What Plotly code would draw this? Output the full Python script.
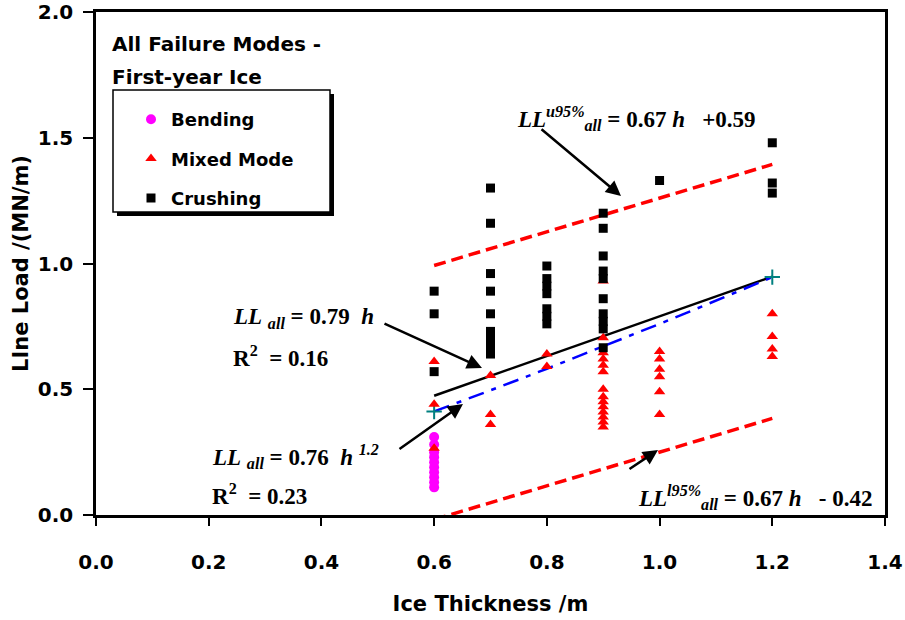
import plotly.graph_objects as go

# ---------------- data ----------------
bending_h = [0.6] * 10
bending_ll = [0.31, 0.28, 0.25, 0.23, 0.21, 0.19, 0.17, 0.15, 0.13, 0.11]

mixed_h = [0.6, 0.6, 0.6,
           0.7, 0.7, 0.7,
           0.8, 0.8,
           0.9, 0.9, 0.9, 0.9, 0.9, 0.9, 0.9, 0.9, 0.9, 0.9, 0.9, 0.9, 0.9, 0.9,
           1.0, 1.0, 1.0, 1.0, 1.0, 1.0,
           1.2, 1.2, 1.2, 1.2]
mixed_ll = [0.61, 0.44, 0.265,
            0.555, 0.40, 0.36,
            0.64, 0.59,
            0.93, 0.705, 0.645, 0.62, 0.595, 0.57, 0.50, 0.47, 0.45, 0.43, 0.41, 0.39, 0.37, 0.35,
            0.65, 0.62, 0.58, 0.55, 0.49, 0.40,
            0.80, 0.71, 0.66, 0.63]

crush_h = [0.6, 0.6, 0.6,
           0.7, 0.7, 0.7, 0.7, 0.7, 0.7, 0.7, 0.7, 0.7,
           0.8, 0.8, 0.8, 0.8, 0.8, 0.8, 0.8,
           0.9, 0.9, 0.9, 0.9, 0.9, 0.9, 0.9, 0.9, 0.9, 0.9,
           1.0,
           1.2, 1.2, 1.2]
crush_ll = [0.89, 0.80, 0.57,
            1.30, 1.16, 0.96, 0.89, 0.80, 0.73, 0.70, 0.67, 0.64,
            0.99, 0.94, 0.91, 0.88, 0.82, 0.79, 0.76,
            1.20, 1.14, 1.03, 0.97, 0.94, 0.86, 0.80, 0.77, 0.74, 0.665,
            1.33,
            1.48, 1.32, 1.28]

# fitted relations shown on the chart
fit_h = [0.6, 0.65, 0.7, 0.75, 0.8, 0.85, 0.9, 0.95, 1.0, 1.05, 1.1, 1.15, 1.2]
lin_coef = 0.79
pow_coef, pow_exp = 0.76, 1.2
band_slope, band_up, band_lo = 0.67, 0.59, -0.42
pow_end_h = [0.6, 1.2]

x_ticks = [0.0, 0.2, 0.4, 0.6, 0.8, 1.0, 1.2, 1.4]
y_ticks = [0.0, 0.5, 1.0, 1.5, 2.0]

# ---------------- layout helpers ----------------
W, H = 905, 620
L, R, T, B = 96, 885, 12, 515


def px(X):
    return (X - L) / (R - L)


def py(Y):
    return (B - Y) / (B - T)


SANS = "DejaVu Sans, Arial, sans-serif"
SERIF = "Liberation Serif, Times New Roman, serif"

fig = go.Figure()

# fit lines
fig.add_trace(go.Scatter(x=fit_h, y=[band_slope * h + band_up for h in fit_h], mode="lines",
                         line=dict(color="#FF0000", width=3.5, dash="12px,6px"), showlegend=False,
                         hoverinfo="skip"))
fig.add_trace(go.Scatter(x=fit_h, y=[band_slope * h + band_lo for h in fit_h], mode="lines",
                         line=dict(color="#FF0000", width=3.5, dash="12px,6px"), showlegend=False,
                         hoverinfo="skip"))
fig.add_trace(go.Scatter(x=fit_h, y=[lin_coef * h for h in fit_h], mode="lines",
                         line=dict(color="black", width=2.5), showlegend=False, hoverinfo="skip"))
fig.add_trace(go.Scatter(x=fit_h, y=[pow_coef * h ** pow_exp for h in fit_h], mode="lines",
                         line=dict(color="#0000FF", width=2.5, dash="16px,8px,5px,8px"), showlegend=False,
                         hoverinfo="skip"))
fig.add_trace(go.Scatter(x=pow_end_h, y=[pow_coef * h ** pow_exp for h in pow_end_h], mode="markers",
                         marker=dict(symbol="cross-thin", size=11, line=dict(color="#008080", width=2)),
                         showlegend=False, hoverinfo="skip"))

# data
fig.add_trace(go.Scatter(x=bending_h, y=bending_ll, mode="markers", name="Bending", legendgroup="a",
                         marker=dict(symbol="circle", size=10, color="#FF00FF")))
fig.add_trace(go.Scatter(x=mixed_h, y=mixed_ll, mode="markers", name="Mixed Mode", legendgroup="b",
                         marker=dict(symbol="triangle-up", size=10, color="#FF0000")))
fig.add_trace(go.Scatter(x=crush_h, y=crush_ll, mode="markers", name="Crushing", legendgroup="c",
                         marker=dict(symbol="square", size=9, color="black")))

# legend box with shadow
shapes = [
    dict(type="rect", xref="paper", yref="paper", x0=px(117), x1=px(334), y0=py(216), y1=py(94),
         fillcolor="black", line=dict(width=0), layer="above"),
    dict(type="rect", xref="paper", yref="paper", x0=px(113), x1=px(330), y0=py(212), y1=py(90),
         fillcolor="white", line=dict(color="black", width=1.5), layer="above"),
]

ann = []


def text(X, Y, s, font, size):
    ann.append(dict(xref="paper", yref="paper", x=px(X), y=py(Y), text=s, showarrow=False,
                    xanchor="left", yanchor="middle", font=dict(family=font, size=size, color="black")))


def arrow(X0, Y0, X1, Y1):
    ann.append(dict(xref="paper", yref="paper", x=px(X1), y=py(Y1), ax=X0 - X1, ay=Y0 - Y1,
                    text="", showarrow=True, arrowhead=2, arrowsize=1.2, arrowwidth=2.5,
                    arrowcolor="black", standoff=0, startstandoff=0))


text(110, 44, "<b>All Failure Modes -</b>", SANS, 20)
text(110, 77, "<b>First-year Ice</b>", SANS, 20)

nb = "\u00a0"
text(515, 118, f"<b><i>LL<sup>u95%</sup><sub>all</sub></i> = 0.67 <i>h</i>{nb*3}+0.59</b>", SERIF, 23)
text(231, 318, f"<b><i>LL{nb}<sub>all</sub></i> = 0.79 {nb}<i>h</i></b>", SERIF, 23)
text(231, 356, f"<b>R<sup>2</sup>{nb} = 0.16</b>", SERIF, 23)
text(210, 456, f"<b><i>LL{nb}<sub>all</sub></i> = 0.76 {nb}<i>h</i>{nb}<i><sup>1.2</sup></i></b>", SERIF, 23)
text(210, 494, f"<b>R<sup>2</sup>{nb} = 0.23</b>", SERIF, 23)
text(636, 497, f"<b><i>LL<sup>l95%</sup><sub>all</sub></i> = 0.67 <i>h</i>{nb*3}- 0.42</b>", SERIF, 23)

arrow(540, 128, 621, 196)
arrow(383, 323, 482, 368)
arrow(398, 450, 463, 404)
arrow(628, 470, 658, 450)

fig.update_layout(
    width=W, height=H,
    margin=dict(l=L, r=W - R, t=T, b=H - B, pad=0, autoexpand=False),
    paper_bgcolor="white", plot_bgcolor="white",
    font=dict(family=SANS, color="black"),
    shapes=shapes,
    annotations=ann,
    legend=dict(x=px(131), y=py(101), xanchor="left", yanchor="top",
                bgcolor="rgba(0,0,0,0)", borderwidth=0, tracegroupgap=13,
                font=dict(family=SANS, size=18, color="black", weight="bold")),
    xaxis=dict(range=[0, 1.4], tickvals=x_ticks, tickformat=".1f", showgrid=False, zeroline=False,
               showline=True, mirror=True, linecolor="black", linewidth=2.5, automargin=False,
               ticks="outside", ticklen=8, tickwidth=2, tickcolor="black", ticklabelstandoff=19,
               ticklabeloverflow="allow",
               tickfont=dict(family=SANS, size=20, color="black", weight="bold"),
               title=dict(text="Ice Thickness /m", standoff=24,
                          font=dict(family=SANS, size=21, color="black", weight="bold"))),
    yaxis=dict(range=[0, 2.0], tickvals=y_ticks, tickformat=".1f", showgrid=False, zeroline=False,
               showline=True, mirror=True, linecolor="black", linewidth=2.5, automargin=False,
               ticks="outside", ticklen=10, tickwidth=2, tickcolor="black", ticklabelstandoff=6,
               ticklabeloverflow="allow",
               tickfont=dict(family=SANS, size=20, color="black", weight="bold"),
               title=dict(text="LIne Load /(MN/m)", standoff=4,
                          font=dict(family=SANS, size=21, color="black", weight="bold"))),
)

fig.write_html("out.html")
